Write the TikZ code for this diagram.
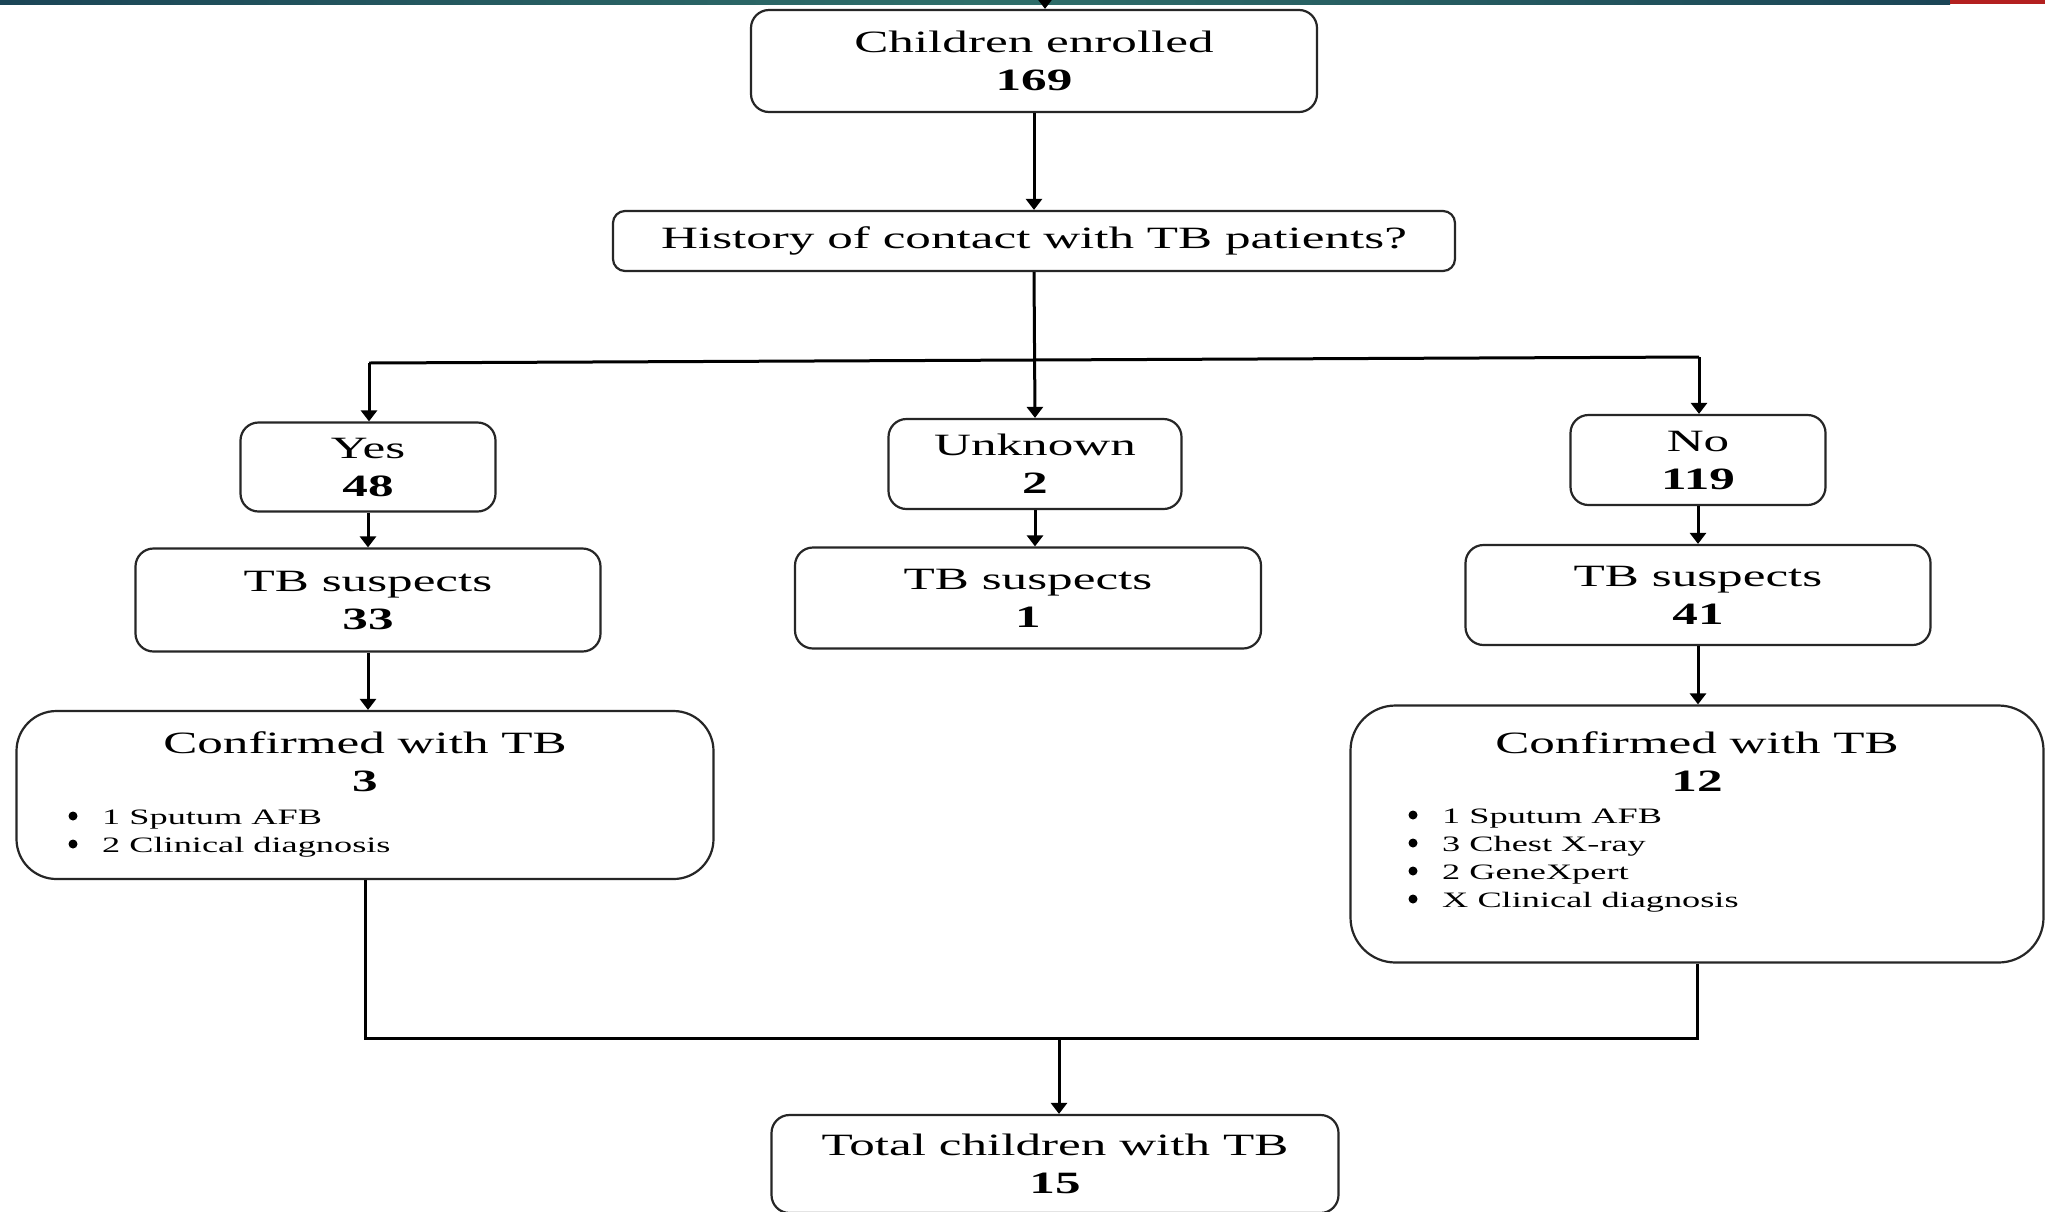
\documentclass[tikz,border=0pt]{standalone}
\usepackage{fontspec}
\setmainfont{Liberation Serif}[FakeStretch=1.65]
\usetikzlibrary{arrows.meta}
\definecolor{bardark}{HTML}{1B4556}
\definecolor{barmid}{HTML}{2F6F6A}
\definecolor{barred}{HTML}{B3201F}
\begin{document}
\begin{tikzpicture}[x=1pt,y=-1pt,
  box/.style={draw=black!85, line width=2.2pt, rounded corners=18pt, inner sep=0pt,
    align=center, font=\fontsize{31}{38}\selectfont},
  lbl/.style={inner sep=0pt, align=center, font=\fontsize{31}{38}\selectfont},
  blist/.style={inner sep=0pt, anchor=west, align=left, font=\fontsize{22}{28}\selectfont},
  bdot/.style={fill=black},
  ln/.style={draw=black, line width=3pt},
  arr/.style={ln, -{Triangle[length=11pt,width=16pt]}}]
\useasboundingbox (0,0) rectangle (2045,1211);
\fill[white] (0,0) rectangle (2045,1211);
\shade[left color=bardark, right color=bardark, middle color=barmid] (0,0) rectangle (1950,4);
\fill[barred] (1950,0) rectangle (2045,4);

\node[box, minimum width=566pt, minimum height=102pt] (C) at (1034,61) {Children enrolled\\\textbf{169}};
\node[box, minimum width=842pt, minimum height=60pt, rounded corners=12pt] (H) at (1034,241) {History of contact with TB patients?};
\node[box, minimum width=255pt, minimum height=89pt] (Y) at (368,467) {Yes\\\textbf{48}};
\node[box, minimum width=293pt, minimum height=90pt] (U) at (1035,464) {Unknown\\\textbf{2}};
\node[box, minimum width=255pt, minimum height=90pt] (N) at (1698,460) {No\\\textbf{119}};
\node[box, minimum width=465pt, minimum height=103pt] (T1) at (368,600) {TB suspects\\\textbf{33}};
\node[box, minimum width=466pt, minimum height=101pt] (T2) at (1028,598) {TB suspects\\\textbf{1}};
\node[box, minimum width=465pt, minimum height=100pt] (T3) at (1698,595) {TB suspects\\\textbf{41}};
\node[box, rounded corners=40pt, minimum width=697pt, minimum height=168pt] (F1) at (365,795) {};
\node[box, rounded corners=45pt, minimum width=693pt, minimum height=257pt] (F2) at (1697,834) {};
\node[box, minimum width=567pt, minimum height=98pt] (Tot) at (1055,1164) {Total children with TB\\\textbf{15}};

\node[lbl] (F1t) at (365,762) {Confirmed with TB\\\textbf{3}};
\node[blist] (F1b) at (102,834) {1 Sputum AFB\\2 Clinical diagnosis};
\fill[bdot] (73,816) circle (4.5pt);
\fill[bdot] (73,844) circle (4.5pt);
\node[lbl] (F2t) at (1697,762) {Confirmed with TB\\\textbf{12}};
\node[blist] (F2b) at (1442,861) {1 Sputum AFB\\3 Chest X-ray\\2 GeneXpert\\X Clinical diagnosis};
\fill[bdot] (1413,815) circle (4.5pt);
\fill[bdot] (1413,843) circle (4.5pt);
\fill[bdot] (1413,871) circle (4.5pt);
\fill[bdot] (1413,899) circle (4.5pt);

\coordinate (top) at (1045,0);
\draw[arr] (top) -- (top |- C.north);
\draw[arr] (C.south) -- (H.north);
\draw[arr] (H.south) -- (U.north);
\coordinate (hl) at (369,363);
\coordinate (hr) at (1699,357);
\draw[ln] (hl) -- (hr);
\draw[arr] (hl) -- (hl |- Y.north);
\draw[arr] (hr) -- (hr |- N.north);
\draw[arr] (Y.south) -- (T1.north);
\draw[arr] (U.south) -- (U.south |- T2.north);
\draw[arr] (N.south) -- (T3.north);
\draw[arr] (T1.south) -- (T1.south |- F1.north);
\draw[arr] (T3.south) -- (T3.south |- F2.north);
\coordinate (m) at (1059,1038);
\draw[ln] (F1.south) -- (F1.south |- m) -- (F2.south |- m) -- (F2.south);
\draw[arr] (m) -- (m |- Tot.north);
\end{tikzpicture}
\end{document}
